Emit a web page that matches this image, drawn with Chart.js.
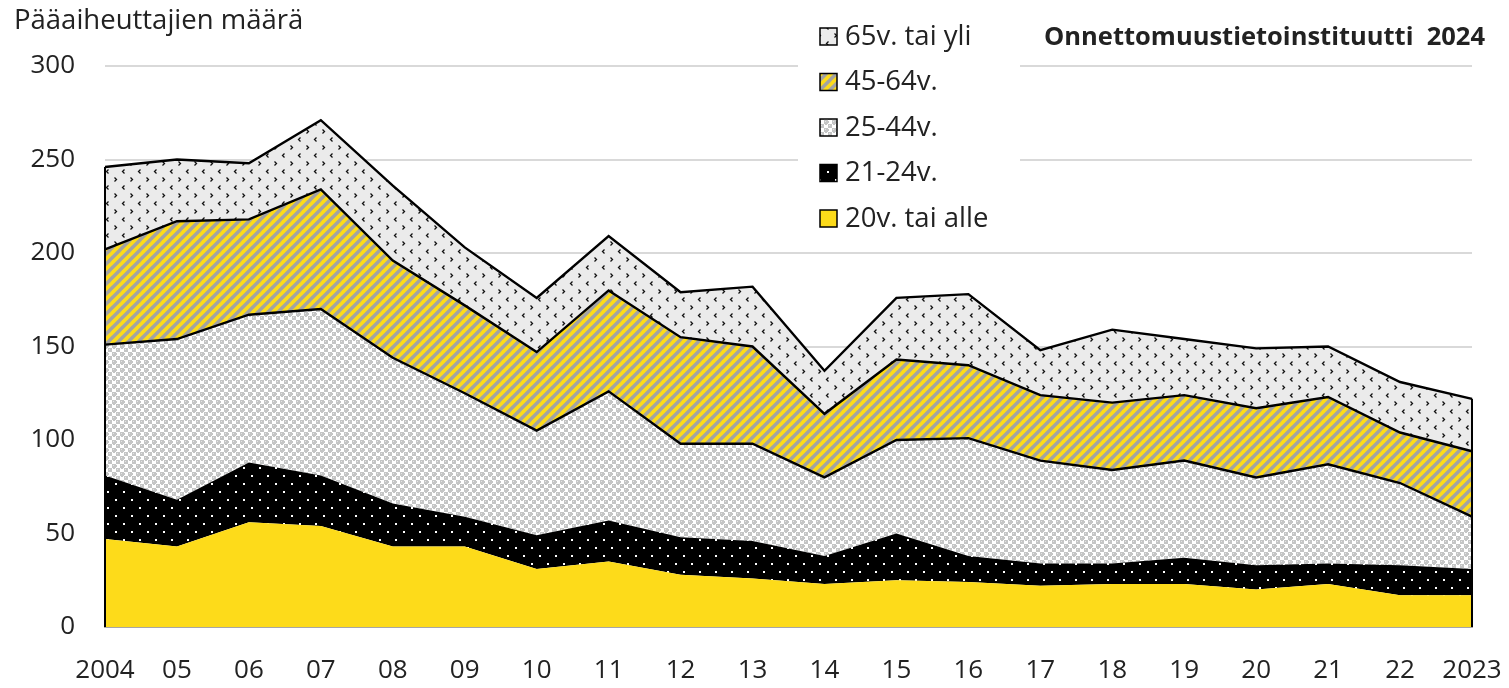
<!DOCTYPE html>
<html>
<head>
<meta charset="utf-8">
<script src="https://cdn.jsdelivr.net/npm/chart.js@4.4.1/dist/chart.umd.min.js"></script>
<style>
html, body { margin: 0; padding: 0; background: #fff; }
#wrap { width: 1509px; height: 688px; }
</style>
</head>
<body>
<div id="wrap"><canvas id="chart" width="1509" height="688"></canvas></div>
<script>
const years = ['2004', '05', '06', '07', '08', '09', '10', '11', '12', '13',
               '14', '15', '16', '17', '18', '19', '20', '21', '22', '2023'];

// persons per age group (stacked from the bottom)
const age20orLess = [47, 43, 56, 54, 43, 43, 31, 35, 28, 26, 23, 25, 24, 22, 23, 23, 20, 23, 17, 17];
const age21to24   = [34, 25, 32, 27, 23, 16, 18, 22, 20, 20, 15, 25, 14, 12, 11, 14, 13, 11, 16, 14];
const age25to44   = [70, 86, 79, 89, 78, 66, 56, 69, 50, 52, 42, 50, 63, 55, 50, 52, 47, 53, 44, 28];
const age45to64   = [51, 63, 51, 64, 52, 47, 42, 54, 57, 52, 34, 43, 39, 35, 36, 35, 37, 36, 27, 35];
const age65plus   = [44, 33, 30, 37, 40, 31, 29, 29, 24, 32, 23, 33, 38, 24, 39, 30, 32, 27, 27, 28];

const seriesNames = ['20v. tai alle', '21-24v.', '25-44v.', '45-64v.', '65v. tai yli'];
const yTicks = [0, 50, 100, 150, 200, 250, 300];

const yTitle = 'Pääaiheuttajien määrä';
const sourceText = 'Onnettomuustietoinstituutti  2024';

const YELLOW = '#FDDB1A';
const FONT = '"Open Sans", "Noto Sans", sans-serif';

function tile(size, draw) {
    const c = document.createElement('canvas');
    c.width = c.height = size;
    const g = c.getContext('2d');
    draw(g, size);
    return g.createPattern(c, 'repeat');
}

// 21-24: black with small white dots
const dotsPattern = tile(16, (g) => {
    g.fillStyle = '#000';
    g.fillRect(0, 0, 16, 16);
    g.fillStyle = '#fff';
    g.fillRect(3, 3, 2, 2);
    g.fillRect(11, 11, 2, 2);
});

// 25-44: light grey checker with round-ish grey cells
const checkPattern = tile(8, (g) => {
    g.fillStyle = '#fff';
    g.fillRect(0, 0, 8, 8);
    g.fillStyle = '#C4C5C5';
    for (const [x, y] of [[0, 0], [4, 4]]) {
        g.fillRect(x, y, 4, 4);
    }
    g.fillRect(4, 1, 1, 2);
    g.fillRect(1, 4, 2, 1);
    g.fillStyle = '#E4E4E4';
    g.fillRect(1, 1, 1, 1);
    g.fillRect(5, 5, 1, 1);
});

// 45-64: yellow with grey diagonal stripes
const stripePattern = tile(10, (g) => {
    g.fillStyle = YELLOW;
    g.fillRect(0, 0, 10, 10);
    g.strokeStyle = '#A3A3A3';
    g.lineWidth = 3.4;
    for (const o of [-10, 0, 10]) {
        g.beginPath();
        g.moveTo(o - 1, 11);
        g.lineTo(o + 11, -1);
        g.stroke();
    }
});

// 65+: light grey with small black chevrons
const chevronPattern = tile(16, (g) => {
    g.fillStyle = '#EBEBEB';
    g.fillRect(0, 0, 16, 16);
    g.strokeStyle = '#111';
    g.lineWidth = 1.3;
    g.beginPath();
    g.moveTo(2.5, 1.5); g.lineTo(4.5, 3.5); g.lineTo(2.5, 5.5);   // ">"
    g.moveTo(12.5, 9.5); g.lineTo(10.5, 11.5); g.lineTo(12.5, 13.5); // "<"
    g.stroke();
});

const fills = [YELLOW, dotsPattern, checkPattern, stripePattern, chevronPattern];
const values = [age20orLess, age21to24, age25to44, age45to64, age65plus];

const datasets = values.map((v, i) => ({
    label: seriesNames[i],
    data: v,
    backgroundColor: fills[i],
    borderColor: '#000',
    borderWidth: i < 2 ? 0 : 2.4,
    fill: i === 0 ? 'origin' : '-1',
    pointRadius: 0,
    tension: 0
}));

// the left and right closing edges of the stacked area
const edgeLines = {
    id: 'edgeLines',
    afterDatasetsDraw(chart) {
        const c = chart.ctx;
        const meta = chart.getDatasetMeta(chart.data.datasets.length - 1);
        const pts = meta.data;
        const bottom = chart.scales.y.getPixelForValue(0);
        c.save();
        c.strokeStyle = '#000';
        c.lineWidth = 2;
        for (const p of [pts[0], pts[pts.length - 1]]) {
            c.beginPath();
            c.moveTo(p.x, p.y);
            c.lineTo(p.x, bottom);
            c.stroke();
        }
        c.restore();
    }
};

const labelsAndLegend = {
    id: 'labelsAndLegend',
    afterDraw(chart) {
        const c = chart.ctx;
        c.save();
        c.fillStyle = '#222';
        c.textBaseline = 'middle';
        c.textAlign = 'left';
        c.font = '27.5px ' + FONT;
        c.fillText(yTitle, 14, 21);

        c.font = 'bold 25.5px ' + FONT;
        c.textAlign = 'right';
        c.fillText(sourceText, 1485, 38);

        // legend box
        c.fillStyle = '#fff';
        c.fillRect(798, 8, 222, 238);
        c.textAlign = 'left';
        c.font = '27.5px ' + FONT;
        for (let k = 0; k < seriesNames.length; k++) {
            const i = seriesNames.length - 1 - k;
            const cy = 36 + k * 45.5;
            c.fillStyle = fills[i];
            c.fillRect(820, cy - 8, 17, 17);
            c.strokeStyle = '#000';
            c.lineWidth = 1.5;
            c.strokeRect(820, cy - 8, 17, 17);
            c.fillStyle = '#222';
            c.fillText(seriesNames[i], 845, cy + 1);
        }
        c.restore();
    }
};

new Chart(document.getElementById('chart'), {
    type: 'line',
    data: { labels: years, datasets: datasets },
    options: {
        responsive: false,
        animation: false,
        events: [],
        layout: { padding: { left: 0, right: 37, top: 66, bottom: 0 } },
        plugins: {
            legend: { display: false },
            tooltip: { enabled: false },
            filler: { drawTime: 'beforeDatasetsDraw' }
        },
        scales: {
            x: {
                offset: false,
                grid: { display: false, drawTicks: false },
                border: { display: true, color: '#A6A6A6', width: 2 },
                ticks: {
                    autoSkip: false,
                    maxRotation: 0,
                    padding: 28,
                    color: '#222',
                    font: { family: FONT, size: 26 }
                },
                afterFit: (s) => {
                    s.height = 61;
                    s.paddingLeft = 0;
                    s.paddingRight = 0;
                }
            },
            y: {
                stacked: true,
                min: 0,
                max: 300,
                afterBuildTicks: (s) => { s.ticks = yTicks.map(v => ({ value: v })); },
                grid: { color: '#D9D9D9', lineWidth: 2, drawTicks: false },
                border: { display: false },
                ticks: {
                    padding: 30,
                    color: '#222',
                    font: { family: FONT, size: 26 }
                },
                afterFit: (s) => { s.width = 105; }
            }
        }
    },
    plugins: [edgeLines, labelsAndLegend]
});
</script>
</body>
</html>
